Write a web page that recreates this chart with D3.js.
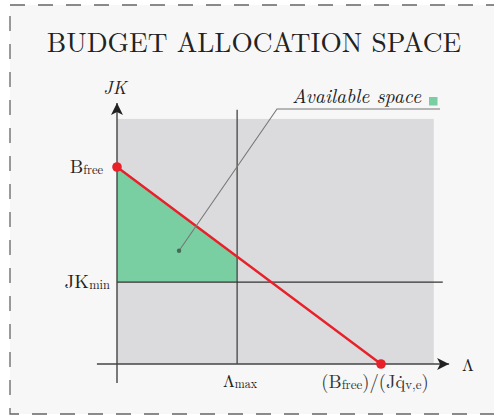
<!DOCTYPE html>
<html>
<head>
<meta charset="utf-8">
<script src="https://cdn.jsdelivr.net/npm/d3@7"></script>
<style>
  html, body { margin: 0; padding: 0; background: #ffffff; }
  svg { display: block; }
</style>
</head>
<body>
<svg id="chart" width="494" height="416"></svg>
<script>
// Budget allocation space: axis Λ (horizontal) vs JK (vertical)
const title = "BUDGET ALLOCATION SPACE";
const serif = "Latin Modern Roman";

// Axis extents (in model units)
const xExtent = [-0.076, 1.258];   // Λ axis
const yExtent = [-0.096, 1.325];   // JK axis
const regionX = [0, 1.2];          // shaded feasible domain
const regionY = [0, 1.244];

// Key quantities
const lambdaMax = 0.455;           // Λmax
const budgetIntercept = 1.0;       // (Bfree)/(J q̇v,e) on the Λ axis
const bFree = 1.0;                 // Bfree on the JK axis
const jkMin = 0.416;               // JKmin

// Tick labels: [main, subscript]
const xTickLabels = [["Λ", "max"]];
const yTickLabels = [["B", "free"], ["JK", "min"]];

// Annotation
const annotationText = "Available space";
const annotationAnchor = [0.235, 0.575];

const svg = d3.select("#chart");

// Panel background with dashed frame
svg.append("rect")
  .attr("x", 10).attr("y", 5)
  .attr("width", 500).attr("height", 409)
  .attr("fill", "#f7f7f7")
  .attr("stroke", "#666")
  .attr("stroke-width", 1.3)
  .attr("stroke-dasharray", "15,13");

svg.append("text")
  .attr("x", 254).attr("y", 52)
  .attr("text-anchor", "middle")
  .attr("font-family", serif)
  .attr("font-size", 27.4)
  .attr("fill", "#222")
  .text(title);

const x = d3.scaleLinear().domain([0, 1]).range([117, 381]);
const y = d3.scaleLinear().domain([0, 1]).range([364, 167]);

// Shaded region
svg.append("rect")
  .attr("x", x(regionX[0])).attr("y", y(regionY[1]))
  .attr("width", x(regionX[1]) - x(regionX[0]))
  .attr("height", y(regionY[0]) - y(regionY[1]))
  .attr("fill", "#dbdbdd");

// Budget line: JK = bFree * (1 - Λ / budgetIntercept)
const budget = l => bFree * (1 - l / budgetIntercept);
const lamAtMin = budgetIntercept * (1 - jkMin / bFree);
const xCut = Math.min(lambdaMax, lamAtMin);

// Available space polygon
const poly = [[0, bFree], [xCut, budget(xCut)], [xCut, jkMin], [0, jkMin]];
svg.append("path")
  .attr("d", d3.line().x(d => x(d[0])).y(d => y(d[1]))(poly) + "Z")
  .attr("fill", "#79cea2");

// Λmax vertical line
svg.append("line")
  .attr("x1", x(lambdaMax)).attr("x2", x(lambdaMax))
  .attr("y1", y(1.29)).attr("y2", y(0))
  .attr("stroke", "#444").attr("stroke-width", 1.3);

// JKmin horizontal line
svg.append("line")
  .attr("x1", x(0)).attr("x2", x(1.234))
  .attr("y1", y(jkMin)).attr("y2", y(jkMin))
  .attr("stroke", "#333").attr("stroke-width", 1.3);

// Axes with arrowheads
const defs = svg.append("defs");
defs.append("marker")
  .attr("id", "arrow")
  .attr("viewBox", "0 0 10 10")
  .attr("refX", 10).attr("refY", 5)
  .attr("markerWidth", 12).attr("markerHeight", 12)
  .attr("markerUnits", "userSpaceOnUse")
  .attr("orient", "auto")
  .append("path").attr("d", "M0,0 L10,5 L0,10 L2.5,5 Z").attr("fill", "#222");

svg.append("line")
  .attr("x1", x(xExtent[0])).attr("x2", x(xExtent[1]))
  .attr("y1", y(0)).attr("y2", y(0))
  .attr("stroke", "#444").attr("stroke-width", 1.4)
  .attr("marker-end", "url(#arrow)");

svg.append("line")
  .attr("x1", x(0)).attr("x2", x(0))
  .attr("y1", y(yExtent[0])).attr("y2", y(yExtent[1]))
  .attr("stroke", "#444").attr("stroke-width", 1.4)
  .attr("marker-end", "url(#arrow)");

// Budget line and its end points
svg.append("line")
  .attr("x1", x(0)).attr("y1", y(bFree))
  .attr("x2", x(budgetIntercept)).attr("y2", y(0))
  .attr("stroke", "#e8202a").attr("stroke-width", 2.4);

svg.selectAll("circle.end")
  .data([[0, bFree], [budgetIntercept, 0]])
  .join("circle")
  .attr("class", "end")
  .attr("cx", d => x(d[0])).attr("cy", d => y(d[1]))
  .attr("r", 4.8)
  .attr("fill", "#e8202a");

// Annotation leader
const ax = x(annotationAnchor[0]), ay = y(annotationAnchor[1]);
svg.append("path")
  .attr("d", `M${ax},${ay} L277,109 L440,109`)
  .attr("fill", "none")
  .attr("stroke", "#777").attr("stroke-width", 1.1);
svg.append("circle")
  .attr("cx", ax).attr("cy", ay).attr("r", 2.2)
  .attr("fill", "#3f6e55");

svg.append("text")
  .attr("x", 421).attr("y", 103)
  .attr("text-anchor", "end")
  .attr("font-family", serif)
  .attr("font-size", 19.8)
  .attr("font-style", "italic")
  .attr("fill", "#222")
  .text(annotationText);
svg.append("rect")
  .attr("x", 429).attr("y", 97)
  .attr("width", 8.5).attr("height", 8.5)
  .attr("fill", "#79cea2");

// Axis titles
svg.append("text")
  .attr("x", 115).attr("y", 94)
  .attr("text-anchor", "middle")
  .attr("font-family", serif)
  .attr("font-size", 18)
  .attr("font-style", "italic")
  .attr("fill", "#222")
  .text("JK");
svg.append("text")
  .attr("x", 462).attr("y", 371)
  .attr("font-family", serif)
  .attr("font-size", 17)
  .attr("fill", "#222")
  .text("Λ");

// Label helper: main text with a small subscript
function subLabel(g, main, sub, size, subSize) {
  g.append("tspan").attr("font-size", size).text(main);
  g.append("tspan").attr("font-size", subSize).attr("dy", 1).text(sub);
}

// Y tick labels
const yTickVals = [bFree, jkMin];
const yTickRight = [103, 110];
yTickLabels.forEach((lab, i) => {
  const t = svg.append("text")
    .attr("x", yTickRight[i]).attr("y", y(yTickVals[i]) + 6)
    .attr("text-anchor", "end")
    .attr("font-family", serif)
    .attr("fill", "#222");
  subLabel(t, lab[0], lab[1], 19, 12.5);
});

// X tick labels
const t1 = svg.append("text")
  .attr("x", x(lambdaMax) + 3).attr("y", 387)
  .attr("text-anchor", "middle")
  .attr("font-family", serif)
  .attr("fill", "#222");
subLabel(t1, xTickLabels[0][0], xTickLabels[0][1], 17, 12);

const t2 = svg.append("text")
  .attr("x", x(budgetIntercept) - 6).attr("y", 388)
  .attr("text-anchor", "middle")
  .attr("font-family", serif)
  .attr("fill", "#333");
t2.append("tspan").attr("font-size", 18.5).text("(B");
t2.append("tspan").attr("font-size", 13).attr("dy", 1).text("free");
t2.append("tspan").attr("font-size", 18.5).attr("dy", -1).text(")/(Jq̇");
t2.append("tspan").attr("font-size", 13).attr("dy", 1).text("v,e");
t2.append("tspan").attr("font-size", 18.5).attr("dy", -1).text(")");
</script>
</body>
</html>
